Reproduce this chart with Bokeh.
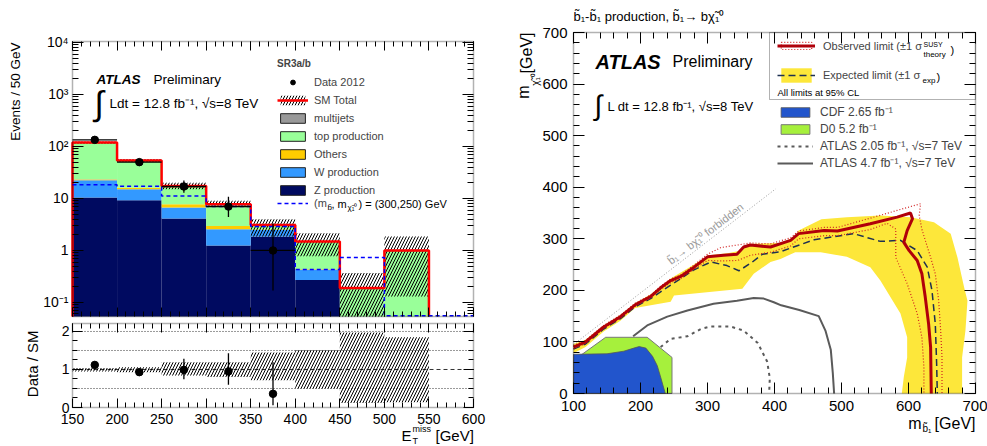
import numpy as np
from bokeh.plotting import figure
from bokeh.models import (Range1d, LinearAxis, LogAxis, FixedTicker, Legend, LegendItem,
                          Label, BoxAnnotation, CustomJSTickFormatter)
from bokeh.layouts import row, column
from bokeh.embed import file_html
from bokeh.resources import INLINE

FONT = "Liberation Sans"

# ---------------- left panel data (SR3a/b, ETmiss) ----------------
bin_edges = [150, 200, 250, 300, 350, 400, 450, 500, 550, 600]
z_prod    = [10.4, 9.2, 4.1, 1.24, 1.85, 0.27, 0.0, 0.0, 0.0]
w_prod    = [12.1, 5.8, 2.6, 1.31, 0.63, 0.16, 0.0, 0.0, 0.0]
others    = [0.7, 1.0, 1.05, 0.40, 0.05, 0.01, 0.0, 0.0, 0.0]
multijets = [0.1, 0.05, 0.02, 0.01, 0.0, 0.0, 0.0, 0.0, 0.0]
top_prod  = [95.7, 37.95, 9.53, 4.79, 0.55, 1.04, 0.19, 1.0, 0.0]
sm_band_lo = [113, 50.5, 15.0, 6.9, 1.85, 0.77, 0.023, 0.13]
sm_band_hi = [125, 57.5, 20.0, 9.0, 4.0, 2.14, 0.37, 1.85]
signal    = [18.3, 17.2, 11.2, 7.0, 2.9, 0.43, 0.73, 0.0, 0.0]
data_x  = [175, 225, 275, 325, 375]
data_y  = [134, 50, 17, 7, 1]
data_lo = [122, 43, 12.9, 4.4, 0.17]
data_hi = [146, 58, 22.2, 10.8, 3.3]
ratio_y  = [1.12, 0.93, 0.99, 0.95, 0.36]
ratio_lo = [1.03, 0.85, 0.74, 0.60, 0.06]
ratio_hi = [1.21, 1.02, 1.28, 1.43, 1.19]
ratio_band_lo = [0.95, 0.93, 0.84, 0.80, 0.72, 0.50, 0.12, 0.14]
ratio_band_hi = [1.04, 1.06, 1.19, 1.19, 1.45, 1.51, 1.97, 1.85]
ratio_ref_dotted = [0.5, 1.5, 2.0]
ratio_ref_dashed = [1.0]
y1_ticks = [0.1, 1, 10, 100, 1000, 10000]
y2_ticks = [0, 1, 2]

# ---------------- right panel data (exclusion contours) ----------------
obs_x = [100, 118, 145, 170, 192, 215, 230, 245, 260, 280, 300, 324, 344, 354, 364, 394, 424, 436,
         474, 494, 543, 583, 603, 606, 598, 593, 601, 613, 620, 625, 630, 633, 634]
obs_y = [90, 100, 129, 149, 172, 188, 205, 219, 227, 245, 265, 268, 270, 284, 288, 284, 297, 310,
         316, 315, 329, 342, 350, 339, 316, 293, 277, 258, 232, 187, 135, 90, 0]
obs_up_x = [100, 118, 145, 170, 192, 215, 230, 245, 260, 280, 300, 320, 345, 364, 394, 424, 436,
            474, 494, 543, 583, 618, 616, 620, 633, 640, 645, 648, 650, 650]
obs_up_y = [93, 103, 132, 152, 175, 191, 208, 222, 230, 249, 270, 283, 288, 292, 290, 302, 315,
            322, 322, 340, 355, 368, 345, 318, 264, 232, 180, 122, 70, 0]
obs_dn_x = [100, 118, 145, 170, 192, 215, 230, 245, 260, 280, 300, 320, 345, 364, 394, 424, 436,
            474, 494, 543, 568, 581, 581, 598, 613, 620, 623, 623]
obs_dn_y = [87, 97, 126, 146, 169, 185, 202, 215, 223, 241, 258, 257, 258, 268, 274, 286, 300,
            306, 306, 318, 330, 319, 264, 213, 155, 109, 51, 0]
exp_x = [100, 118, 145, 170, 192, 215, 245, 280, 305, 329, 347, 367, 382, 409, 459, 518, 558, 588,
         613, 628, 635, 640, 642, 643]
exp_y = [86, 96, 125, 145, 168, 184, 210, 240, 255, 248, 238, 255, 270, 275, 298, 310, 295, 297,
         277, 245, 200, 135, 58, 0]
band_out_x = [100, 118, 145, 170, 192, 215, 245, 280, 302, 330, 352, 360, 409, 430, 436, 470, 508,
              558, 603, 638, 663, 673, 683, 688, 685, 680, 680]
band_out_y = [96, 104, 132, 152, 175, 192, 223, 250, 268, 272, 278, 290, 292, 303, 316, 338, 342,
              345, 342, 332, 310, 264, 206, 180, 122, 70, 0]
band_in_x = [100, 118, 145, 170, 192, 245, 250, 352, 369, 394, 409, 431, 469, 508, 543, 558, 573,
             588, 598, 598, 593, 590]
band_in_y = [78, 90, 120, 141, 166, 178, 190, 203, 232, 255, 261, 274, 274, 265, 245, 219, 187,
             155, 109, 70, 32, 0]
cdf_x = [100, 100, 150, 175, 190, 198, 208, 218, 225, 230, 237]
cdf_y = [0, 76, 77, 82, 88, 91, 88, 72, 54, 32, 0]
d0_x = [100, 100, 148, 210, 247, 247]
d0_y = [0, 64, 109, 109, 70, 0]
atlas47_x = [189, 210, 240, 270, 309, 344, 369, 384, 399, 410, 437, 466, 476, 484, 487, 489]
atlas47_y = [111, 132, 149, 161, 174, 180, 185, 184, 177, 171, 162, 150, 122, 85, 40, 0]
atlas205_x = [230, 245, 270, 290, 305, 334, 354, 375, 389, 393, 392]
atlas205_y = [90, 106, 111, 125, 130, 130, 122, 98, 62, 30, 0]
kin_x = [100, 402]
kin_y = [95, 397]
x3_ticks = list(range(100, 701, 100))
y3_ticks = list(range(0, 701, 100))

# ---------------- colours ----------------
C_Z, C_W, C_OTH, C_TOP, C_MJ = "#000a60", "#3399ff", "#ffcc00", "#99ff99", "#999999"
C_RED, C_SIG = "#ff0000", "#0000ff"
C_YEL, C_OBS, C_OBSDOT, C_EXP = "#fde73a", "#b0000a", "#d02020", "#1e3050"
C_CDF, C_D0, C_GRAY = "#2255cc", "#a6f03c", "#5a5a5a"

# ---------------- layout geometry (page pixels) ----------------
# canvases: (left, top, width, height); visual frames: (left, top, right, bottom)
CAN1, VIS1 = (0, 0, 490, 319), (72, 41, 473, 316)
CAN2, VIS2 = (0, 319, 490, 125), (72, 323, 473, 407)
CAN3, VIS3 = (490, 0, 497, 444), (573, 32, 975, 393)
X1_LIM = (bin_edges[0], bin_edges[-1])
LOG_LIM = (-1.270, 4.019)
R_LIM = (0.0, 2.21)
X3_LIM, Y3_LIM = (100, 700), (0, 700)


def lin(px, p0, p1, d0, d1):
    return d0 + (px - p0) * (d1 - d0) / (p1 - p0)


def lx(px): return lin(px, VIS1[0], VIS1[2], *X1_LIM)
def ly(py): return 10 ** lin(py, VIS1[3], VIS1[1], *LOG_LIM)
def ry(py): return lin(py, VIS2[3], VIS2[1], *R_LIM)
def mx(px): return lin(px, VIS3[0], VIS3[2], *X3_LIM)
def my(py): return lin(py, VIS3[3], VIS3[1], *Y3_LIM)


def style_axis(ax, major_in, minor_in, size="14px", standoff=4, labels=True):
    ax.axis_line_color = None
    ax.major_tick_in = major_in
    ax.major_tick_out = 0
    ax.minor_tick_in = minor_in
    ax.minor_tick_out = 0
    ax.major_tick_line_color = "black"
    ax.minor_tick_line_color = "black"
    ax.major_label_text_font = FONT
    ax.major_label_text_color = "black"
    if labels:
        ax.major_label_text_font_size = size
        ax.major_label_standoff = standoff
    else:
        ax.formatter = CustomJSTickFormatter(code="return ''")
        ax.major_label_text_font_size = "0px"
        ax.major_label_standoff = 0


def base_fig(can, **kw):
    p = figure(output_backend="svg", toolbar_location=None, width=can[2], height=can[3],
               min_border_left=0, min_border_right=0, min_border_top=0, min_border_bottom=0,
               **kw)
    p.xgrid.visible = False
    p.ygrid.visible = False
    p.outline_line_color = None
    p.background_fill_color = "white"
    p.border_fill_color = "white"
    return p


def frame_box(p, l, r, b, t):
    p.add_layout(BoxAnnotation(left=l, right=r, bottom=b, top=t, fill_alpha=0,
                               line_color="black", line_width=1.5))


def lab(p, x, y, text, size, **kw):
    opts = dict(text_font=FONT, text_font_size=size, text_baseline="middle",
                text_align="left", text_color="black")
    opts.update(kw)
    p.add_layout(Label(x=x, y=y, text=text, **opts))


def step_xy(edges, vals, start=None):
    xs = np.repeat(np.asarray(edges, float), 2)[1:-1]
    ys = np.repeat(np.asarray(vals, float), 2)
    if start is not None:
        xs = np.concatenate([[edges[0]], xs])
        ys = np.concatenate([[start], ys])
    return xs, ys


def nan_quad(p, **kw):
    return p.quad(left=[np.nan], right=[np.nan], top=[np.nan], bottom=[np.nan], **kw)


def leg_loc(can, left_px, bottom_px):
    return (left_px - can[0], can[1] + can[3] - bottom_px)


edges = np.asarray(bin_edges, float)
lefts, rights = edges[:-1], edges[1:]
ymin, ymax = 10 ** LOG_LIM[0], 10 ** LOG_LIM[1]

# full-canvas ranges (frame == canvas, visual frame drawn as a box)
x1_range = Range1d(lx(CAN1[0]), lx(CAN1[0] + CAN1[2]))
y1_range = Range1d(ly(CAN1[1] + CAN1[3]), ly(CAN1[1]))
y2_range = Range1d(ry(CAN2[1] + CAN2[3]), ry(CAN2[1]))
x3_range = Range1d(mx(CAN3[0]), mx(CAN3[0] + CAN3[2]))
y3_range = Range1d(my(CAN3[1] + CAN3[3]), my(CAN3[1]))

# ================= left top: stacked histogram (log) =================
p1 = base_fig(CAN1, x_range=x1_range, y_range=y1_range, y_axis_type="log")

comps = [z_prod, w_prod, others, multijets, top_prod]
cols = [C_Z, C_W, C_OTH, C_MJ, C_TOP]
cum = np.zeros(len(lefts))
for vals, c in zip(comps, cols):
    v = np.asarray(vals, float)
    bottom = np.maximum(cum, ymin)
    top = cum + v
    m = v > 0
    p1.quad(left=lefts[m], right=rights[m], bottom=bottom[m], top=top[m],
            fill_color=c, line_color=None)
    cum = top
sm_total = cum

nb = len(sm_band_lo)
hatch_r = p1.quad(left=lefts[:nb], right=rights[:nb], bottom=np.maximum(sm_band_lo, ymin),
                  top=sm_band_hi, fill_alpha=0, line_color=None, hatch_pattern="/",
                  hatch_color="black", hatch_scale=6, hatch_weight=1)
last = int(np.nonzero(sm_total > 0)[0][-1])
sx, sy = step_xy(edges[:last + 2], np.maximum(sm_total[:last + 1], ymin), start=ymin)
sx = np.append(sx, edges[last + 1])
sy = np.append(sy, ymin)
sm_line = p1.line(sx, sy, line_color=C_RED, line_width=2.5)
sig_vals = np.where(np.asarray(signal) > 0, signal, ymin * 1.03)
gx, gy = step_xy(edges, sig_vals)
sig_line = p1.line(gx, gy, line_color=C_SIG, line_width=1.5, line_dash="4 3")

p1.segment(x0=data_x, x1=data_x, y0=data_lo, y1=data_hi, line_color="black", line_width=1.3)
half = (edges[1] - edges[0]) / 2
p1.segment(x0=np.array(data_x) - half, x1=np.array(data_x) + half, y0=data_y, y1=data_y,
           line_color="black", line_width=1.3)
data_r = p1.scatter(data_x, data_y, size=7.5, color="black")
frame_box(p1, X1_LIM[0], X1_LIM[1], ymin, ymax)

minor_log = [k * 10.0 ** n for n in range(-2, 5) for k in range(2, 10)]
minor_log = [t for t in minor_log if ymin <= t <= ymax]
ytick = FixedTicker(ticks=y1_ticks, minor_ticks=minor_log)
xtick1 = FixedTicker(ticks=list(range(150, 601, 50)), minor_ticks=list(range(150, 601, 10)))
log_fmt = CustomJSTickFormatter(code="""
const e = Math.round(Math.log10(tick));
const sup = {"-1": "\u207b\u00b9", "2": "\u00b2", "3": "\u00b3", "4": "\u2074"};
if (e == 0) return "1";
if (e == 1) return "10";
return "10" + sup[String(e)];
""")
p1.yaxis.ticker = ytick
p1.yaxis.formatter = log_fmt
p1.yaxis.fixed_location = X1_LIM[0]
style_axis(p1.yaxis[0], 11, 6, "14px", 4)
p1.xaxis.ticker = xtick1
p1.xaxis.fixed_location = ymin
style_axis(p1.xaxis[0], 9, 5, labels=False)
ax_r = LogAxis(ticker=ytick, fixed_location=X1_LIM[1])
style_axis(ax_r, 11, 6, labels=False)
p1.add_layout(ax_r, "right")
ax_t = LinearAxis(ticker=xtick1, fixed_location=ymax)
style_axis(ax_t, 9, 5, labels=False)
p1.add_layout(ax_t, "above")

# legend
sw = {}
for name, c in [("mj", C_MJ), ("top", C_TOP), ("oth", C_OTH), ("w", C_W), ("z", C_Z)]:
    sw[name] = nan_quad(p1, fill_color=c, line_color="#222222", line_width=1)
leg_common = dict(padding=0, margin=0, border_line_alpha=0, background_fill_alpha=0,
                  label_text_font=FONT)
p1.add_layout(Legend(items=[
    LegendItem(label="Data 2012", renderers=[data_r]),
    LegendItem(label="SM Total", renderers=[hatch_r, sm_line]),
    LegendItem(label="multijets", renderers=[sw["mj"]]),
    LegendItem(label="top production", renderers=[sw["top"]]),
    LegendItem(label="Others", renderers=[sw["oth"]]),
    LegendItem(label="W production", renderers=[sw["w"]]),
    LegendItem(label="Z production", renderers=[sw["z"]]),
], location=leg_loc(CAN1, 277, 196), title="SR3a/b", title_text_font=FONT,
    title_text_font_size="10px", title_text_font_style="bold", title_standoff=7, spacing=6,
    glyph_width=31, glyph_height=12, label_height=12, label_standoff=6,
    label_text_font_size="11px", **leg_common))
p1.add_layout(Legend(items=[LegendItem(label="(m", renderers=[sig_line])],
                     location=leg_loc(CAN1, 277, 209), glyph_width=31, glyph_height=12,
                     label_height=12, label_standoff=6, label_text_font_size="11px",
                     **leg_common))
lab(p1, lx(327), ly(207), "b\u0303", "8px")
lab(p1, lx(331), ly(203), ", m", "11px")
lab(p1, lx(347), ly(207), "\u03c7\u0303\u2081\u2070", "8px")
lab(p1, lx(358), ly(203), ") = (300,250) GeV", "11px")

lab(p1, lx(96), ly(79), "ATLAS", "13.5px", text_font_style="bold italic")
lab(p1, lx(153), ly(79), "Preliminary", "13.5px")
lab(p1, lx(94), ly(102), "\u222b", "34px")
lab(p1, lx(109), ly(103), "Ldt = 12.8 fb\u207b\u00b9, \u221as=8 TeV", "13.5px")
lab(p1, lx(15), ly(42), "Events / 50 GeV", "13.5px", angle=np.pi / 2, text_align="right")

# ================= left bottom: ratio =================
p2 = base_fig(CAN2, x_range=x1_range, y_range=y2_range)
for v in ratio_ref_dotted:
    p2.segment(x0=[X1_LIM[0]], x1=[X1_LIM[1]], y0=[v], y1=[v], line_color="#333333",
               line_dash="1 2", line_width=1)
for v in ratio_ref_dashed:
    p2.segment(x0=[X1_LIM[0]], x1=[X1_LIM[1]], y0=[v], y1=[v], line_color="#333333",
               line_dash="4 3", line_width=1)
p2.quad(left=lefts[:nb], right=rights[:nb], bottom=ratio_band_lo, top=ratio_band_hi,
        fill_alpha=0, line_color=None, hatch_pattern="/", hatch_color="black",
        hatch_scale=6, hatch_weight=1)
p2.segment(x0=data_x, x1=data_x, y0=ratio_lo, y1=ratio_hi, line_color="black", line_width=1.3)
p2.scatter(data_x, ratio_y, size=7.5, color="black")
frame_box(p2, X1_LIM[0], X1_LIM[1], R_LIM[0], R_LIM[1])

rtick = FixedTicker(ticks=y2_ticks, minor_ticks=[i * 0.25 for i in range(0, 9)])
p2.yaxis.ticker = rtick
p2.yaxis.fixed_location = X1_LIM[0]
style_axis(p2.yaxis[0], 10, 5, "14px", 3)
p2.xaxis.ticker = xtick1
p2.xaxis.fixed_location = R_LIM[0]
style_axis(p2.xaxis[0], 9, 5, "14px", 6)
a2r = LinearAxis(ticker=rtick, fixed_location=X1_LIM[1])
style_axis(a2r, 10, 5, labels=False)
p2.add_layout(a2r, "right")
a2t = LinearAxis(ticker=xtick1, fixed_location=R_LIM[1])
style_axis(a2t, 9, 5, labels=False)
p2.add_layout(a2t, "above")

lab(p2, lx(32), ry(330), "Data / SM", "15px", angle=np.pi / 2, text_align="right")
lab(p2, lx(435), ry(435), "[GeV]", "15px")
lab(p2, lx(412), ry(428), "miss", "9px")
lab(p2, lx(412), ry(440), "T", "9px")
lab(p2, lx(411), ry(435), "E", "15px", text_align="right")

# ================= right: exclusion plane =================
p3 = base_fig(CAN3, x_range=x3_range, y_range=y3_range)
band_x = band_out_x + band_in_x[::-1]
band_y = band_out_y + band_in_y[::-1]
yel = p3.patch(band_x, band_y, fill_color=C_YEL, line_color=None)
d0 = p3.patch(d0_x, d0_y, fill_color=C_D0, line_color="#777777", line_width=1)
cdf = p3.patch(cdf_x, cdf_y, fill_color=C_CDF, line_color="#555555", line_width=0.8)
p3.line(kin_x, kin_y, line_color="#9a9a9a", line_width=1, line_dash="1 2")
a205 = p3.line(atlas205_x, atlas205_y, line_color=C_GRAY, line_width=2, line_dash="3 4")
a47 = p3.line(atlas47_x, atlas47_y, line_color=C_GRAY, line_width=2)
exp_r = p3.line(exp_x, exp_y, line_color=C_EXP, line_width=1.5, line_dash="7 4")
p3.line(obs_up_x, obs_up_y, line_color=C_OBSDOT, line_width=1.2, line_dash="1 2")
p3.line(obs_dn_x, obs_dn_y, line_color=C_OBSDOT, line_width=1.2, line_dash="1 2")
obs_r = p3.line(obs_x, obs_y, line_color=C_OBS, line_width=3)
frame_box(p3, X3_LIM[0], X3_LIM[1], Y3_LIM[0], Y3_LIM[1])

tick3 = FixedTicker(ticks=x3_ticks, minor_ticks=list(range(100, 701, 20)))
tick3y = FixedTicker(ticks=y3_ticks, minor_ticks=list(range(0, 701, 20)))
p3.xaxis.ticker = tick3
p3.xaxis.fixed_location = Y3_LIM[0]
style_axis(p3.xaxis[0], 11, 6, "15px", 7)
p3.yaxis.ticker = tick3y
p3.yaxis.fixed_location = X3_LIM[0]
style_axis(p3.yaxis[0], 11, 6, "15px", 6)
a3r = LinearAxis(ticker=tick3y, fixed_location=X3_LIM[1])
style_axis(a3r, 11, 6, labels=False)
p3.add_layout(a3r, "right")
a3t = LinearAxis(ticker=tick3, fixed_location=Y3_LIM[1])
style_axis(a3t, 11, 6, labels=False)
p3.add_layout(a3t, "above")

# legends
p3.add_layout(BoxAnnotation(left=mx(769), right=X3_LIM[1], bottom=my(99), top=Y3_LIM[1],
                            fill_alpha=0, line_color="black", line_width=1))
obs_dot_dummy = nan_quad(p3, fill_alpha=0, line_color=C_OBSDOT, line_width=1.2,
                         line_dash="1 2")
p3.add_layout(Legend(items=[LegendItem(label="Observed limit (\u00b11 \u03c3",
                                       renderers=[obs_dot_dummy, obs_r])],
                     location=leg_loc(CAN3, 777, 51.5), glyph_width=38, glyph_height=9,
                     label_height=9, label_standoff=8, label_text_font_size="11px",
                     **leg_common))
p3.add_layout(Legend(items=[LegendItem(label="Expected limit (\u00b11 \u03c3",
                                       renderers=[yel, exp_r])],
                     location=leg_loc(CAN3, 777, 84), glyph_width=38, glyph_height=18,
                     label_height=18, label_standoff=8, label_text_font_size="11px",
                     **leg_common))
lab(p3, mx(923), my(44), "SUSY", "7px")
lab(p3, mx(923), my(54), "theory", "8px")
lab(p3, mx(950), my(49), ")", "11px")
lab(p3, mx(922), my(80), "exp", "8px")
lab(p3, mx(936), my(76), ")", "11px")
lab(p3, mx(777), my(92), "All limits at 95% CL", "9.5px")

p3.add_layout(Legend(items=[
    LegendItem(label="CDF 2.65 fb\u207b\u00b9", renderers=[cdf]),
    LegendItem(label="D0 5.2 fb\u207b\u00b9", renderers=[d0]),
    LegendItem(label="ATLAS 2.05 fb\u207b\u00b9, \u221as=7 TeV", renderers=[a205]),
    LegendItem(label="ATLAS 4.7 fb\u207b\u00b9, \u221as=7 TeV", renderers=[a47]),
], location=leg_loc(CAN3, 777, 171), glyph_width=36, glyph_height=12, label_height=12,
    spacing=0, label_standoff=7, label_text_font_size="12px", **leg_common))

# texts
lab(p3, mx(573), my(16),
    "b\u0303\u2081-b\u0303\u2081 production, b\u0303\u2081\u2192 b\u03c7\u0303\u2081\u2070", "13px")
lab(p3, mx(595), my(61), "ATLAS", "20px", text_font_style="bold italic")
lab(p3, mx(672), my(61), "Preliminary", "16px")
lab(p3, mx(594), my(105), "\u222b", "28px")
lab(p3, mx(607), my(106), "L dt = 12.8 fb\u207b\u00b9, \u221as=8 TeV", "13px")
lab(p3, mx(672), my(266), "b\u0303\u2081\u2192 b\u03c7\u0303\u2081\u2070 forbidden", "11px",
    text_color="#999999", angle=0.656, text_baseline="bottom")
lab(p3, mx(975), my(423), "[GeV]", "16px", text_align="right")
lab(p3, mx(922), my(428), "b\u0303\u2081", "10px")
lab(p3, mx(921), my(423), "m", "16px", text_align="right")
lab(p3, mx(526), my(32), "[GeV]", "16px", angle=np.pi / 2, text_align="right")
lab(p3, mx(535), my(79), "\u03c7\u0303\u2081\u2070", "10px", angle=np.pi / 2, text_align="center")
lab(p3, mx(523), my(85), "m", "16px", angle=np.pi / 2, text_align="right")

layout = row(column(p1, p2), p3)
open("out.html", "w").write(file_html(layout, INLINE))
